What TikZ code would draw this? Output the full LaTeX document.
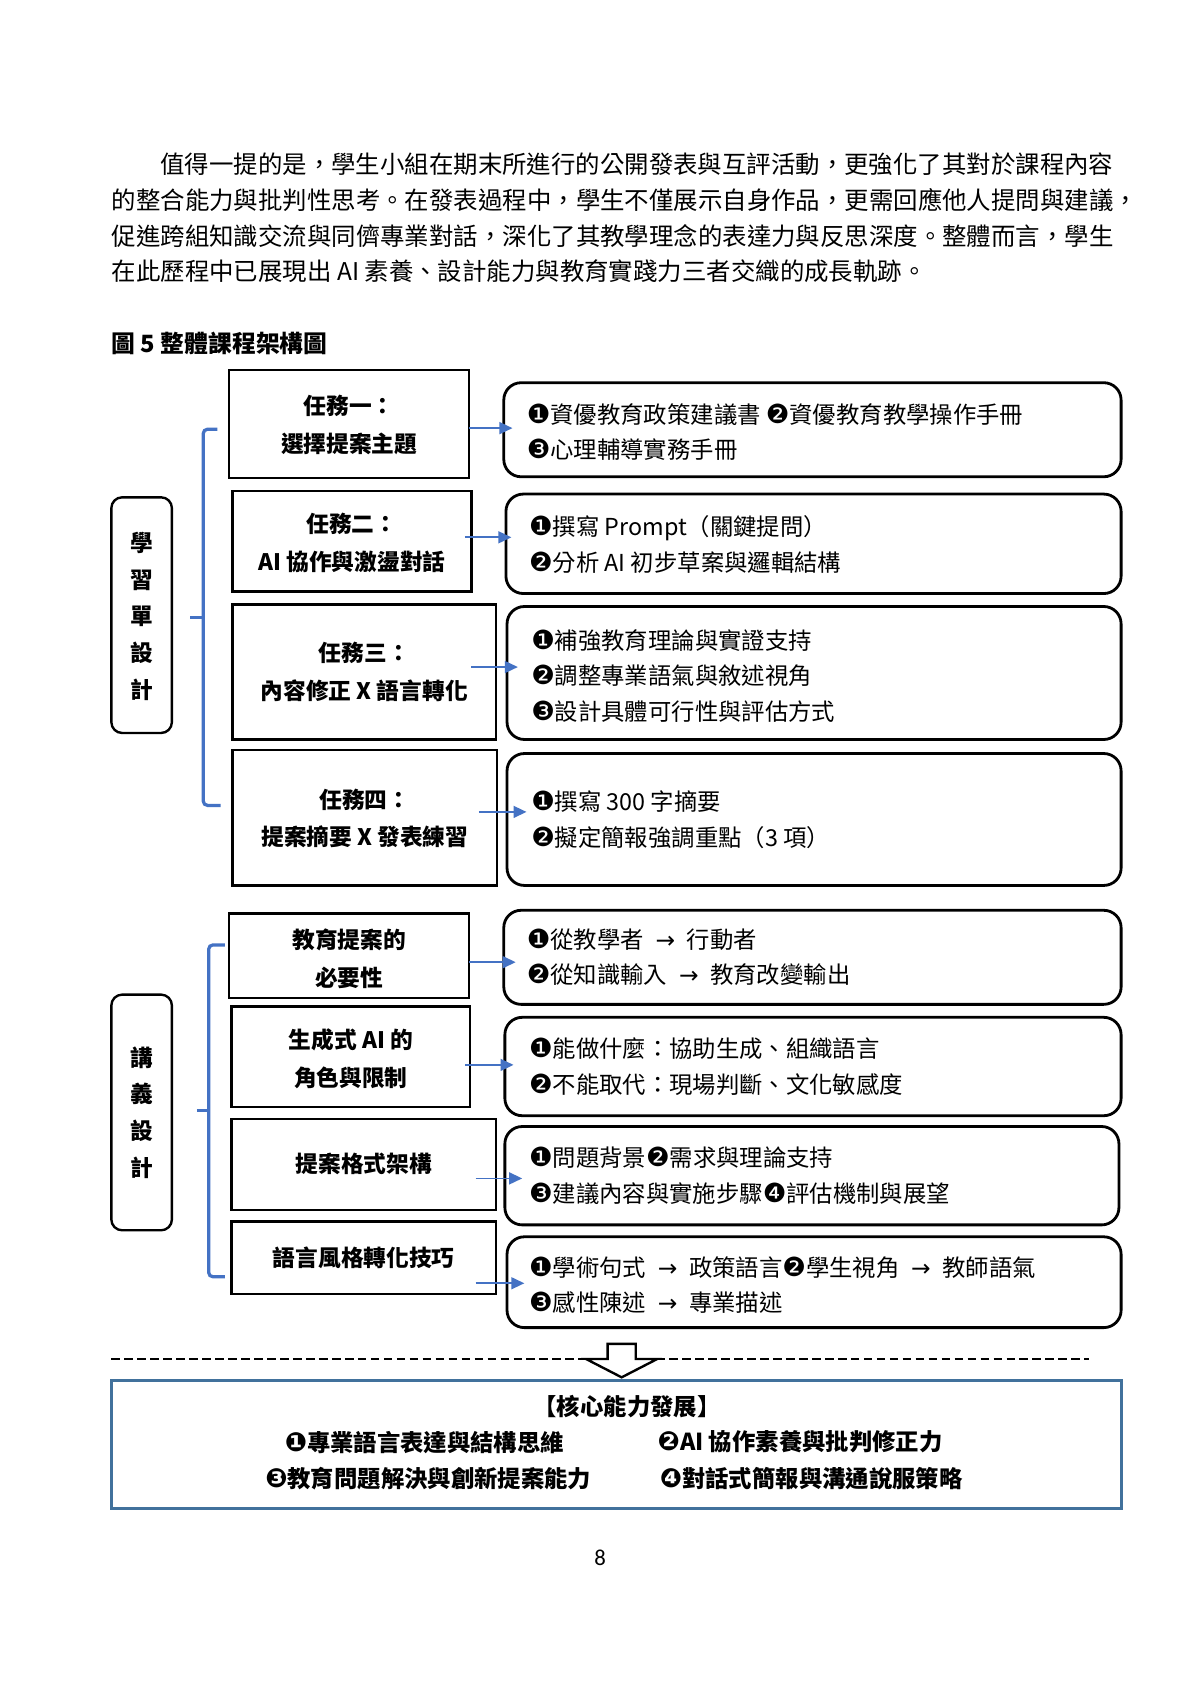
\documentclass[tikz,border=0pt]{standalone}
\usepackage{fontspec}
\setmainfont{Noto Sans CJK TC}
\newfontfamily\dejavu{DejaVu Sans}
\newfontfamily\pagefont{Carlito}
\usetikzlibrary{arrows.meta,fit}
\definecolor{arrblue}{HTML}{4472C4}
\definecolor{boxblue}{HTML}{41719C}
\newcommand\ncirc[1]{{\dejavu\fontsize{12.2}{12}\selectfont #1}}
\newcommand\rarr{\hspace{0.5em}{\dejavu →}\hspace{0.5em}}
\begin{document}
\begin{tikzpicture}[x=0.5pt,y=-0.5pt,
  para/.style={anchor=west,inner sep=0pt,font=\fontsize{11.3}{16}\selectfont},
  taskbox/.style={draw,line width=1.1pt,inner sep=0pt},
  tasktext/.style={inner sep=0pt,align=center,font=\bfseries\fontsize{10.5}{17.5}\selectfont},
  rbox/.style={draw,line width=1.3pt,rounded corners=8pt,inner sep=0pt},
  rtext/.style={anchor=west,inner sep=0pt,align=left,font=\fontsize{10.8}{16.5}\selectfont},
  lbox/.style={draw,line width=1.1pt,rounded corners=5pt,inner sep=0pt},
  ltext/.style={inner sep=0pt,align=center,font=\bfseries\fontsize{10.5}{17}\selectfont},
  bracket/.style={draw=arrblue,line width=1.5pt,rounded corners=2pt},
  arr/.style={draw=arrblue,line width=0.8pt,-{Triangle[length=6pt,width=5.5pt]}},
  coretext/.style={anchor=west,inner sep=0pt,font=\bfseries\fontsize{10.8}{16}\selectfont}
]
\useasboundingbox[fill=white] (0,0) rectangle (1110,1569.7);

% paragraph
\node[para] (p1) at (148,152) {值得一提的是，學生小組在期末所進行的公開發表與互評活動，更強化了其對於課程內容};
\node[para] (p2) at (103,185) {的整合能力與批判性思考。在發表過程中，學生不僅展示自身作品，更需回應他人提問與建議，};
\node[para] (p3) at (103,218) {促進跨組知識交流與同儕專業對話，深化了其教學理念的表達力與反思深度。整體而言，學生};
\node[para] (p4) at (103,251) {在此歷程中已展現出 AI 素養、設計能力與教育實踐力三者交織的成長軌跡。};

% caption
\node[para,font=\bfseries\fontsize{11}{16}\selectfont] (cap) at (103,318) {圖 5 整體課程架構圖};

% left labels
\node[lbox,fit={(103,460) (159,678)}] (l1) {};
\node[lbox,fit={(103,920) (159,1138)}] (l2) {};
\node[ltext] (l1t) at (131,570) {學\\習\\單\\設\\計};
\node[ltext] (l2t) at (131,1029) {講\\義\\設\\計};

% brackets
\draw[bracket] (201,397) -- (188,397) -- (188,745) -- (204,745);
\draw[bracket] (176,571) -- (188,571);
\draw[bracket] (208,874) -- (193,874) -- (193,1181) -- (208,1181);
\draw[bracket] (182,1027) -- (193,1027);

% task boxes
\node[taskbox,fit={(212,342) (434,442)}] (t1) {};
\node[taskbox,fit={(215,454) (436,547)}] (t2) {};
\node[taskbox,fit={(215,559) (459,684)}] (t3) {};
\node[taskbox,fit={(215,694) (460,819)}] (t4) {};
\node[taskbox,fit={(212,845) (434,923)}] (b1) {};
\node[taskbox,fit={(214,931) (435,1024)}] (b2) {};
\node[taskbox,fit={(214,1035) (459,1119)}] (b3) {};
\node[taskbox,fit={(214,1130) (459,1197)}] (b4) {};

\node[tasktext] (t1t) at (323,393) {任務一：\\選擇提案主題};
\node[tasktext] (t2t) at (325.5,502) {任務二：\\AI 協作與激盪對話};
\node[tasktext] (t3t) at (337,621.5) {任務三：\\內容修正 X 語言轉化};
\node[tasktext] (t4t) at (337.5,757) {任務四：\\提案摘要 X 發表練習};
\node[tasktext] (b1t) at (323,887) {教育提案的\\必要性};
\node[tasktext] (b2t) at (324.5,979) {生成式 AI 的\\角色與限制};
\node[tasktext] (b3t) at (336.5,1077) {提案格式架構};
\node[tasktext] (b4t) at (336.5,1163) {語言風格轉化技巧};

% right boxes
\node[rbox,fit={(466,354) (1037,441)}] (r1) {};
\node[rbox,fit={(468,457) (1037,549)}] (r2) {};
\node[rbox,fit={(469,561) (1037,684)}] (r3) {};
\node[rbox,fit={(469,697) (1037,819)}] (r4) {};
\node[rbox,fit={(466,842) (1037,929)}] (s1) {};
\node[rbox,fit={(467,941) (1037,1032)}] (s2) {};
\node[rbox,fit={(467,1042) (1035,1133)}] (s3) {};
\node[rbox,fit={(469,1144) (1037,1228)}] (s4) {};

\node[rtext] (r1t) at (487,399.5) {\ncirc{❶}資優教育政策建議書 \ncirc{❷}資優教育教學操作手冊\\\ncirc{❸}心理輔導實務手冊};
\node[rtext] (r2t) at (489,503.5) {\ncirc{❶}撰寫 Prompt（關鍵提問）\\\ncirc{❷}分析 AI 初步草案與邏輯結構};
\node[rtext] (r3t) at (491,625) {\ncirc{❶}補強教育理論與實證支持\\\ncirc{❷}調整專業語氣與敘述視角\\\ncirc{❸}設計具體可行性與評估方式};
\node[rtext] (r4t) at (491,758.5) {\ncirc{❶}撰寫 300 字摘要\\\ncirc{❷}擬定簡報強調重點（3 項）};
\node[rtext] (s1t) at (487,885.5) {\ncirc{❶}從教學者\rarr 行動者\\\ncirc{❷}從知識輸入\rarr 教育改變輸出};
\node[rtext] (s2t) at (489,986.5) {\ncirc{❶}能做什麼：協助生成、組織語言\\\ncirc{❷}不能取代：現場判斷、文化敏感度};
\node[rtext] (s3t) at (489,1087.5) {\ncirc{❶}問題背景\ncirc{❷}需求與理論支持\\\ncirc{❸}建議內容與實施步驟\ncirc{❹}評估機制與展望};
\node[rtext] (s4t) at (489,1188.5) {\ncirc{❶}學術句式\rarr 政策語言\ncirc{❷}學生視角\rarr 教師語氣\\\ncirc{❸}感性陳述\rarr 專業描述};

% arrows
\coordinate (a1s) at (434,396); \coordinate (a1e) at (474,396);
\coordinate (a2s) at (430,497); \coordinate (a2e) at (473,497);
\coordinate (a3s) at (436,617); \coordinate (a3e) at (479,617);
\coordinate (a4s) at (443,751); \coordinate (a4e) at (487,751);
\coordinate (c1s) at (434,890); \coordinate (c1e) at (477,890);
\coordinate (c2s) at (430,985); \coordinate (c2e) at (475,985);
\coordinate (c3s) at (440,1090); \coordinate (c3e) at (483,1090);
\coordinate (c4s) at (440,1187); \coordinate (c4e) at (485,1187);
\draw[arr] (a1s) -- (a1e);
\draw[arr] (a2s) -- (a2e);
\draw[arr] (a3s) -- (a3e);
\draw[arr] (a4s) -- (a4e);
\draw[arr] (c1s) -- (c1e);
\draw[arr] (c2s) -- (c2e);
\draw[arr] (c3s) -- (c3e);
\draw[arr] (c4s) -- (c4e);

% dashed separator and hollow arrow
\draw[line width=0.6pt,dash pattern=on 4pt off 2pt] (103,1257) -- (1007,1257);
\draw[line width=1.1pt,fill=white,line join=miter] (562,1243) -- (588,1243) -- (588,1257) -- (608,1257) -- (575,1274) -- (542,1257) -- (562,1257) -- cycle;

% core box
\node[draw=boxblue,line width=1.3pt,inner sep=0pt,fit={(103,1277) (1037,1395)}] (core) {};
\node[inner sep=0pt,font=\bfseries\fontsize{10.8}{16}\selectfont] (coreh) at (580,1301) {【核心能力發展】};
\node[coretext] (k1) at (263,1334) {\ncirc{❶}專業語言表達與結構思維};
\node[coretext] (k2) at (608,1334) {\ncirc{❷}AI 協作素養與批判修正力};
\node[coretext] (k3) at (245,1368) {\ncirc{❸}教育問題解決與創新提案能力};
\node[coretext] (k4) at (610,1368) {\ncirc{❹}對話式簡報與溝通說服策略};

% page number
\node[inner sep=0pt,font=\pagefont\fontsize{10.5}{12}\selectfont] (pg) at (555,1441) {8};
\end{tikzpicture}
\end{document}
